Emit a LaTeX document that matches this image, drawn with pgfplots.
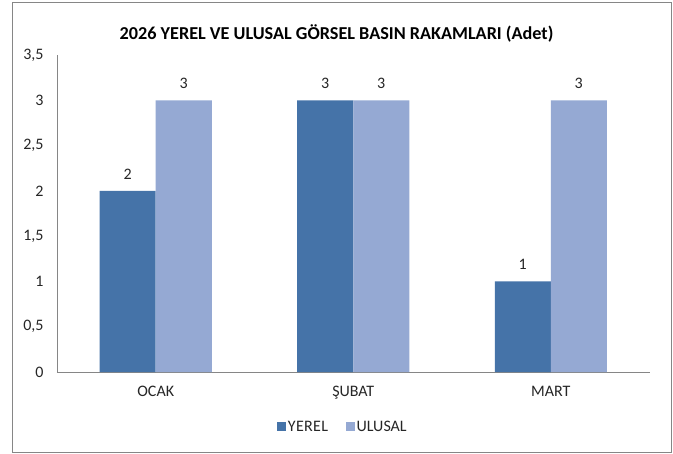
\documentclass[border=0pt]{standalone}
\usepackage{pgfplots}
\pgfplotsset{compat=1.18}
\usepackage{fontspec}
\setmainfont{Carlito}
\definecolor{yerel}{HTML}{4573A8}
\definecolor{ulusal}{HTML}{95A9D3}
\definecolor{axgray}{HTML}{868686}
\begin{document}
\begin{tikzpicture}
\useasboundingbox (-57bp,-82bp) rectangle (616bp,372bp);
\fill[white] (-57bp,-82bp) rectangle (616bp,372bp);
\draw[axgray, line width=0.8bp] (-45bp,-80bp) rectangle (614bp,370bp);
\node[font=\bfseries\fontsize{18.2bp}{20bp}\selectfont] at (279.5bp,339bp) {2026 YEREL VE ULUSAL GÖRSEL BASIN RAKAMLARI (Adet)};
\begin{axis}[
  scale only axis,
  width=592.5bp, height=317bp,
  ybar=0pt, bar width=56bp,
  xmin=-0.5, xmax=2.5,
  ymin=0, ymax=3.5,
  xtick={0,1,2},
  xticklabels={OCAK,ŞUBAT,MART},
  ytick={0,0.5,1,1.5,2,2.5,3,3.5},
  /pgf/number format/use comma,
  /pgf/number format/assume math mode=true,
  axis x line*=bottom, axis y line*=left,
  axis line style={axgray, line width=0.8bp, -},
  major tick length=0pt,
  tick label style={font=\fontsize{16bp}{18bp}\selectfont, text=black!85},
  xticklabel style={yshift=-10.5bp},
  yticklabel style={xshift=-10bp},
  nodes near coords,
  nodes near coords style={font=\fontsize{16bp}{18bp}\selectfont, text=black!85, yshift=8bp},
  legend style={at={(0.482,-0.1735)}, anchor=center, draw=none, fill=none,
    legend columns=2, font=\fontsize{16bp}{18bp}\selectfont, text=black!85,
    nodes={inner xsep=1.5bp},
    /tikz/every even column/.append style={column sep=16bp}},
  legend image code/.code={\fill[#1] (0bp,-4.5bp) rectangle (9.5bp,4.5bp);},
]
\addplot[fill=yerel, draw=none] coordinates {(0,2) (1,3) (2,1)};
\addplot[fill=ulusal, draw=none] coordinates {(0,3) (1,3) (2,3)};
\legend{\addfontfeature{LetterSpace=2}YEREL, ULUSAL}
\end{axis}
\end{tikzpicture}
\end{document}
